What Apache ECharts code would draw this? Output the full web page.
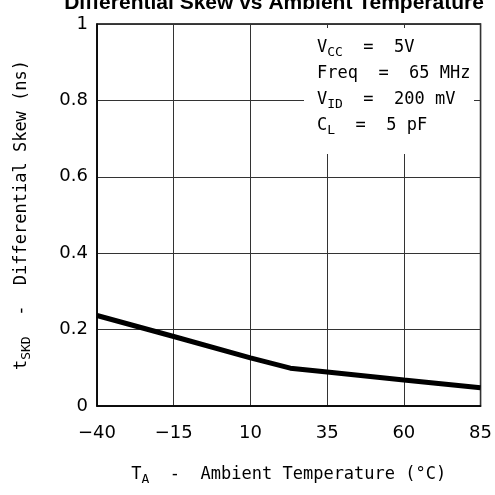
<!DOCTYPE html>
<html>
<head>
<meta charset="utf-8">
<script src="https://cdn.jsdelivr.net/npm/echarts@6/dist/echarts.min.js"></script>
<style>
  html, body { margin: 0; padding: 0; background: #fff; }
  #chart { width: 495px; height: 495px; }
</style>
</head>
<body>
<div id="chart"></div>
<script>
// temperature (°C) and differential skew (ns)
const temps = [-40, -15, 10, 23, 35, 60, 85]
const skew = [0.237, 0.182, 0.126, 0.099, 0.089, 0.068, 0.048]

const xStart = -40 // axis starts here, ticks every 25
const xTickStep = 25
const yTickStep = 0.2

const conditions = [
  '{t|V}{s|CC}{t|  =  5V}',
  '{t|Freq  =  65 MHz}',
  '{t|V}{s|ID}{t|  =  200 mV}',
  '{t|C}{s|L}{t|  =  5 pF}',
]

const mono = 'DejaVu Sans Mono'
const sans = 'DejaVu Sans'
const sub = { fontSize: 13, fontFamily: mono, color: '#000', padding: [10, 0, 0, 0] }
const txt = { fontSize: 17, fontFamily: mono, color: '#000' }

const chart = echarts.init(document.getElementById('chart'))

chart.setOption({
  animation: false,
  title: {
    text: 'Differential Skew vs Ambient Temperature',
    left: 269,
    textAlign: 'center',
    top: -12,
    textStyle: { fontFamily: 'Liberation Sans', fontWeight: 'bold', fontSize: 21, color: '#000' },
  },
  grid: {
    left: 97,
    right: 14,
    top: 24,
    bottom: 89,
    show: true,
    borderColor: '#000',
    borderWidth: 1.5,
  },
  xAxis: {
    type: 'value',
    min: 0,
    max: 125,
    interval: xTickStep,
    axisLine: { lineStyle: { color: '#000', width: 1.5 } },
    axisTick: { show: false },
    splitLine: { lineStyle: { color: '#333', width: 1 } },
    axisLabel: {
      formatter: (v) => String(v + xStart).replace('-', '\u2212'),
      fontFamily: sans,
      fontSize: 18,
      color: '#000',
      margin: 18,
    },
    name: '{t|T}{s|A}{t|  -  Ambient Temperature (°C)}',
    nameLocation: 'middle',
    nameGap: 57,
    nameTextStyle: { rich: { t: txt, s: sub } },
  },
  yAxis: {
    type: 'value',
    min: 0,
    max: 1,
    interval: yTickStep,
    axisLine: { show: true, lineStyle: { color: '#000', width: 1.5 } },
    axisTick: { show: false },
    splitLine: { lineStyle: { color: '#333', width: 1 } },
    axisLabel: { fontFamily: sans, fontSize: 18, color: '#000', margin: 9 },
    name: '{t|t}{s|SKD}{t|  -  Differential Skew (ns)}',
    nameLocation: 'middle',
    nameRotate: 90,
    nameGap: 64,
    nameTextStyle: { rich: { t: txt, s: sub } },
  },
  series: [
    {
      type: 'line',
      data: temps.map((t, i) => [t - xStart, skew[i]]),
      showSymbol: false,
      lineStyle: { color: '#000', width: 5 },
      z: 5,
    },
  ],
  graphic: [
    {
      type: 'rect',
      left: 304,
      top: 28,
      shape: { width: 170, height: 126 },
      style: { fill: '#fff' },
      z: 10,
    },
    {
      type: 'text',
      left: 317,
      top: 35,
      z: 11,
      style: {
        text: conditions.join('\n'),
        lineHeight: 26,
        rich: { t: { ...txt, lineHeight: 26 }, s: { ...sub } },
      },
    },
  ],
})
</script>
</body>
</html>
